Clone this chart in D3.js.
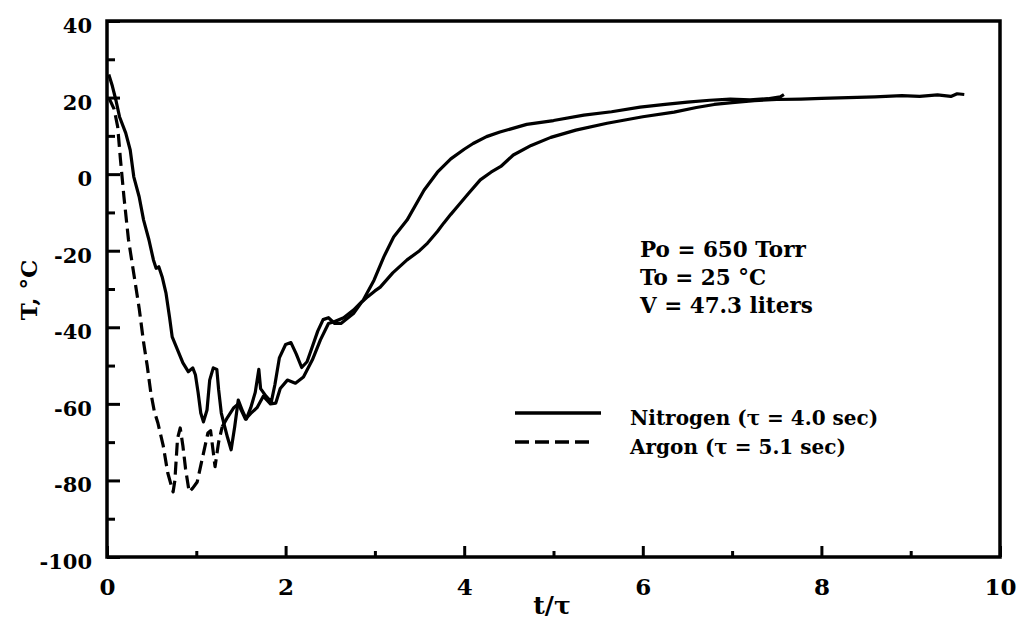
<!DOCTYPE html>
<html>
<head>
<meta charset="utf-8">
<script src="https://cdn.jsdelivr.net/npm/d3@7"></script>
<style>
  html, body { margin: 0; padding: 0; background: #fff; }
  svg { display: block; }
</style>
</head>
<body>
<svg id="chart" width="1019" height="620"></svg>
<script>
// Normalized time t/tau and gas temperature (deg C) during blowdown
const nitrogenX = [0.02, 0.06, 0.10, 0.14, 0.21, 0.26, 0.30, 0.36, 0.41, 0.47, 0.52, 0.55, 0.58, 0.62, 0.66, 0.70, 0.73, 0.79, 0.85, 0.91, 0.96, 0.99, 1.02, 1.05, 1.08, 1.12, 1.15, 1.19, 1.23, 1.25, 1.28, 1.31, 1.35, 1.39, 1.43, 1.47, 1.52, 1.56, 1.61, 1.66, 1.70, 1.72, 1.78, 1.84, 1.88, 1.93, 2.00, 2.06, 2.12, 2.18, 2.24, 2.30, 2.36, 2.42, 2.48, 2.55, 2.62, 2.70, 2.76, 2.85, 2.92, 3.00, 3.06, 3.20, 3.36, 3.50, 3.59, 3.70, 3.77, 3.85, 3.92, 4.05, 4.18, 4.30, 4.41, 4.55, 4.75, 4.97, 5.25, 5.60, 6.00, 6.35, 6.60, 6.80, 7.00, 7.25, 7.50, 7.77, 8.00, 8.30, 8.60, 8.90, 9.10, 9.30, 9.45, 9.52, 9.60];
const nitrogenT = [26, 23, 19.3, 15, 10.7, 6.3, -0.7, -5.9, -12, -17.2, -22.4, -24.6, -24.2, -27, -31, -37.3, -42.5, -45.9, -49.3, -51.6, -50.6, -52.4, -57, -62.4, -64.7, -61.6, -53.8, -50.6, -51, -56.3, -62.4, -65.2, -68.8, -72, -66, -59, -62, -64, -61, -57, -51, -56, -58, -59.5, -55, -48, -44.5, -44, -47, -50.5, -49, -45, -41, -38, -37.5, -39, -39, -37.5, -36.4, -33.5, -32, -30.5, -29.5, -25.8, -22.4, -20, -18, -15, -12.8, -10.5, -8.6, -5, -1.5, 0.5, 2, 5, 7.5, 9.6, 11.5, 13.3, 15, 16.2, 17.4, 18.2, 18.7, 19.2, 19.5, 19.6, 19.8, 20, 20.2, 20.5, 20.3, 20.7, 20.3, 21, 20.8];

const argonX = [0.02, 0.08, 0.12, 0.15, 0.19, 0.24, 0.30, 0.36, 0.41, 0.45, 0.49, 0.53, 0.57, 0.63, 0.68, 0.74, 0.76, 0.79, 0.82, 0.85, 0.88, 0.92, 0.96, 1.01, 1.07, 1.13, 1.16, 1.19, 1.21, 1.25, 1.29, 1.35, 1.42, 1.47, 1.52, 1.55, 1.61, 1.68, 1.75, 1.83, 1.89, 1.94, 2.02, 2.11, 2.20, 2.30, 2.39, 2.48, 2.55, 2.65, 2.76, 2.87, 2.99, 3.10, 3.21, 3.36, 3.55, 3.70, 3.85, 4.00, 4.10, 4.25, 4.40, 4.70, 5.00, 5.34, 5.65, 5.97, 6.25, 6.50, 6.75, 6.98, 7.20, 7.40, 7.54, 7.58];
const argonT = [20, 17, 12.3, 4, -6, -17, -26, -35, -44, -50, -57, -62, -65, -71, -78, -83, -80, -69, -66.3, -71, -77, -83, -82, -80.4, -74, -67.6, -67, -72.6, -76.4, -70, -66, -63.5, -61, -60, -62.5, -64, -62.5, -61, -58, -60, -59.8, -56, -53.8, -54.6, -53, -48.5, -43.3, -39, -38.5, -37.5, -35.5, -32.9, -27.7, -21.6, -16.4, -12, -4.2, 0.5, 4, 6.5, 8, 9.8, 11, 13, 14, 15.4, 16.3, 17.5, 18.2, 18.8, 19.3, 19.6, 19.4, 19.7, 20.2, 20.8];

const xTickValues = [0, 2, 4, 6, 8, 10];
const xMinorTicks = [1, 3, 5, 7, 9];
const yTickValues = [40, 20, 0, -20, -40, -60, -80, -100];
const yMinorTicks = [30, 10, -10, -30, -50, -70, -90];

const conditions = ["Po = 650 Torr", "To = 25 \u00B0C", "V = 47.3 liters"];
const legendLabels = ["Nitrogen (\u03C4 = 4.0 sec)", "Argon (\u03C4 = 5.1 sec)"];

// argon trace is printed dashed only until the noise makes it run together
const argonDashEnd = 1.29;

const svg = d3.select("#chart");
const plotLeft = 107, plotRight = 1000, plotTop = 21, plotBottom = 557;

const x = d3.scaleLinear().domain([0, 10]).range([plotLeft, plotRight]);
const y = d3.scaleLinear().domain([-100, 40]).range([plotBottom, plotTop]);

const serif = "'DejaVu Serif', 'Liberation Serif', serif";
const plainNumber = d => String(d);

// curves
const line = d3.line().x(d => x(d[0])).y(d => y(d[1])).curve(d3.curveLinear);
const nitrogen = nitrogenX.map((v, i) => [v, nitrogenT[i]]);
const argon = argonX.map((v, i) => [v, argonT[i]]);
const split = argonX.findIndex(v => v >= argonDashEnd);

const curves = svg.append("g").attr("fill", "none").attr("stroke", "#000")
  .attr("stroke-width", 3.2).attr("stroke-linejoin", "round");
curves.append("path").attr("d", line(nitrogen));
curves.append("path").attr("d", line(argon.slice(0, split + 1)))
  .attr("stroke-dasharray", "13,6");
curves.append("path").attr("d", line(argon.slice(split)));

// axes
const yAxis = d3.axisLeft(y).tickValues(yTickValues).tickSizeInner(-13).tickSizeOuter(0)
  .tickPadding(15).tickFormat(plainNumber);
const yMinor = d3.axisLeft(y).tickValues(yMinorTicks).tickSizeInner(-8).tickSizeOuter(0).tickFormat("");
const xAxis = d3.axisBottom(x).tickValues(xTickValues).tickSizeInner(-11).tickSizeOuter(0)
  .tickPadding(22).tickFormat(plainNumber);
const xMinor = d3.axisBottom(x).tickValues(xMinorTicks).tickSizeInner(-6).tickSizeOuter(0).tickFormat("");

function styleAxis(g) {
  g.select(".domain").remove();
  g.selectAll(".tick line").attr("stroke", "#000").attr("stroke-width", 3);
}

svg.append("g").attr("transform", `translate(${plotLeft},0)`).call(yAxis).call(styleAxis)
  .selectAll("text").attr("font-family", serif).attr("font-weight", "bold")
  .attr("font-size", 21).attr("fill", "#000").attr("dy", "0.55em");
svg.append("g").attr("transform", `translate(${plotLeft},0)`).call(yMinor).call(styleAxis);
svg.append("g").attr("transform", `translate(0,${plotBottom})`).call(xAxis).call(styleAxis)
  .selectAll("text").attr("font-family", serif).attr("font-weight", "bold")
  .attr("font-size", 23).attr("fill", "#000");
svg.append("g").attr("transform", `translate(0,${plotBottom})`).call(xMinor).call(styleAxis);

// frame
svg.append("rect").attr("x", plotLeft).attr("y", plotTop)
  .attr("width", plotRight - plotLeft).attr("height", plotBottom - plotTop)
  .attr("fill", "none").attr("stroke", "#000").attr("stroke-width", 3.5);

// axis titles
svg.append("text").attr("x", 552).attr("y", 614).attr("text-anchor", "middle")
  .attr("font-family", serif).attr("font-weight", "bold").attr("font-size", 25)
  .text("t/\u03C4");
svg.append("text").attr("transform", "translate(37,290) rotate(-90)")
  .attr("text-anchor", "middle").attr("font-family", serif).attr("font-weight", "bold")
  .attr("font-size", 23).text("T, \u00B0C");

// run conditions
svg.append("g").selectAll("text").data(conditions).join("text")
  .attr("x", 640).attr("y", (d, i) => 257 + i * 28)
  .attr("font-family", serif).attr("font-weight", "bold").attr("font-size", 21.5)
  .attr("fill", "#000").text(d => d);

// legend
const legend = svg.append("g");
legendLabels.forEach((lab, i) => {
  const ly = 413 + i * 29;
  legend.append("line").attr("x1", 515).attr("x2", i === 0 ? 601 : 592)
    .attr("y1", ly).attr("y2", ly).attr("stroke", "#000").attr("stroke-width", 3.5)
    .attr("stroke-dasharray", i === 0 ? null : "14,6");
  legend.append("text").attr("x", 630).attr("y", ly + 12)
    .attr("font-family", serif).attr("font-weight", "bold").attr("font-size", 20)
    .attr("fill", "#000").text(lab);
});
</script>
</body>
</html>
